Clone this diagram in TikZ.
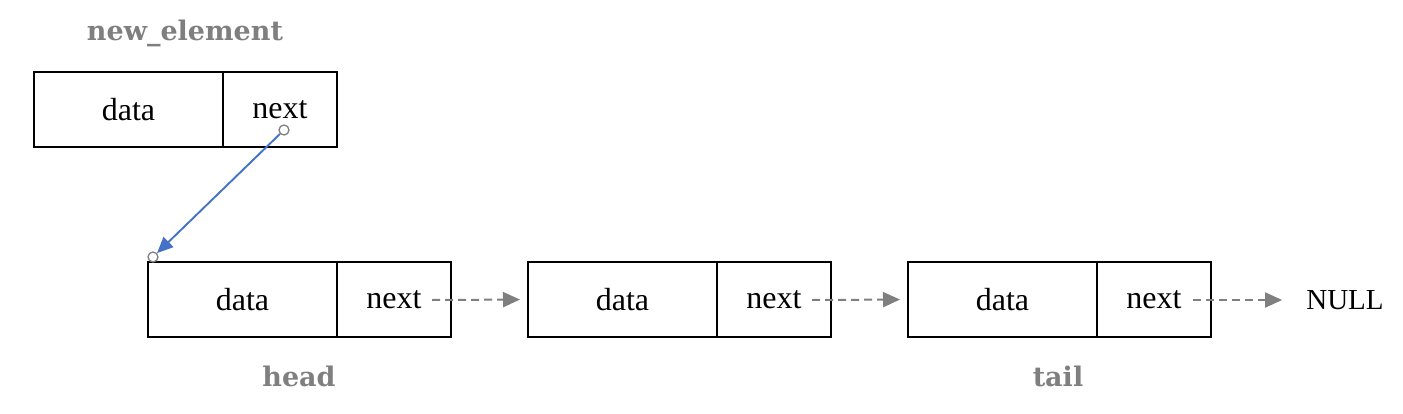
\documentclass[tikz,border=0pt]{standalone}
\usepackage{fontspec}
\setmainfont{Liberation Serif}
\newfontfamily\lblfont{DejaVu Serif}
\usetikzlibrary{arrows.meta}
\definecolor{lblgray}{HTML}{7F7F7F}
\definecolor{arrgray}{HTML}{7F7F7F}
\definecolor{blueline}{HTML}{4472C4}
\tikzset{
  cell/.style={draw=black, line width=1.2pt, minimum height=75pt, inner sep=0pt, outer sep=0pt, font=\fontsize{32}{36}\selectfont},
  datacell/.style={cell, minimum width=189pt},
  nextcell/.style={cell, minimum width=114pt},
  lbl/.style={text=lblgray, font=\lblfont\bfseries\fontsize{27}{31}\selectfont},
  dasharrow/.style={draw=arrgray, line width=2pt, dash pattern=on 8pt off 5pt, -{Triangle[length=17pt,width=15pt]}},
  ring/.style={draw=gray, fill=white, line width=1.3pt, circle, minimum size=10pt, inner sep=0pt},
}
\begin{document}
\begin{tikzpicture}[x=1pt,y=-1pt]
\useasboundingbox (0,0) rectangle (1403,413);
% new element
\node[datacell, anchor=north west] (nd) at (34,72) {data};
\node[nextcell, anchor=west] (nn) at (nd.east) {next};
\node[lbl] (lnew) at (185,33) {new\_element};
% list
\node[datacell, anchor=north west] (d1) at (148,262) {data};
\node[nextcell, anchor=west] (n1) at (d1.east) {next};
\node[datacell, anchor=north west] (d2) at (528,262) {data};
\node[nextcell, anchor=west] (n2) at (d2.east) {next};
\node[datacell, anchor=north west] (d3) at (908,262) {data};
\node[nextcell, anchor=west] (n3) at (d3.east) {next};
\node[font=\fontsize{29}{34}\selectfont, inner sep=0pt] (null) at (1345,300) {NULL};
\node[lbl] (lhead) at (299,376) {head};
\node[lbl] (ltail) at (1058,376) {tail};
% dashed arrows
\coordinate (s1) at (432,300);
\coordinate (s2) at (812,300);
\coordinate (s3) at (1193,300);
\draw[dasharrow, shorten >=8pt] (s1) -- (d2.west);
\draw[dasharrow, shorten >=8pt] (s2) -- (d3.west);
\draw[dasharrow, shorten >=24pt] (s3) -- (null.west);
% blue arrow
\node[ring] (ra) at (284,130) {};
\node[ring] (rb) at (153,257) {};
\draw[blueline, line width=1.9pt, -{Triangle[length=16pt,width=14pt]}] (ra) -- (rb);
\end{tikzpicture}
\end{document}
